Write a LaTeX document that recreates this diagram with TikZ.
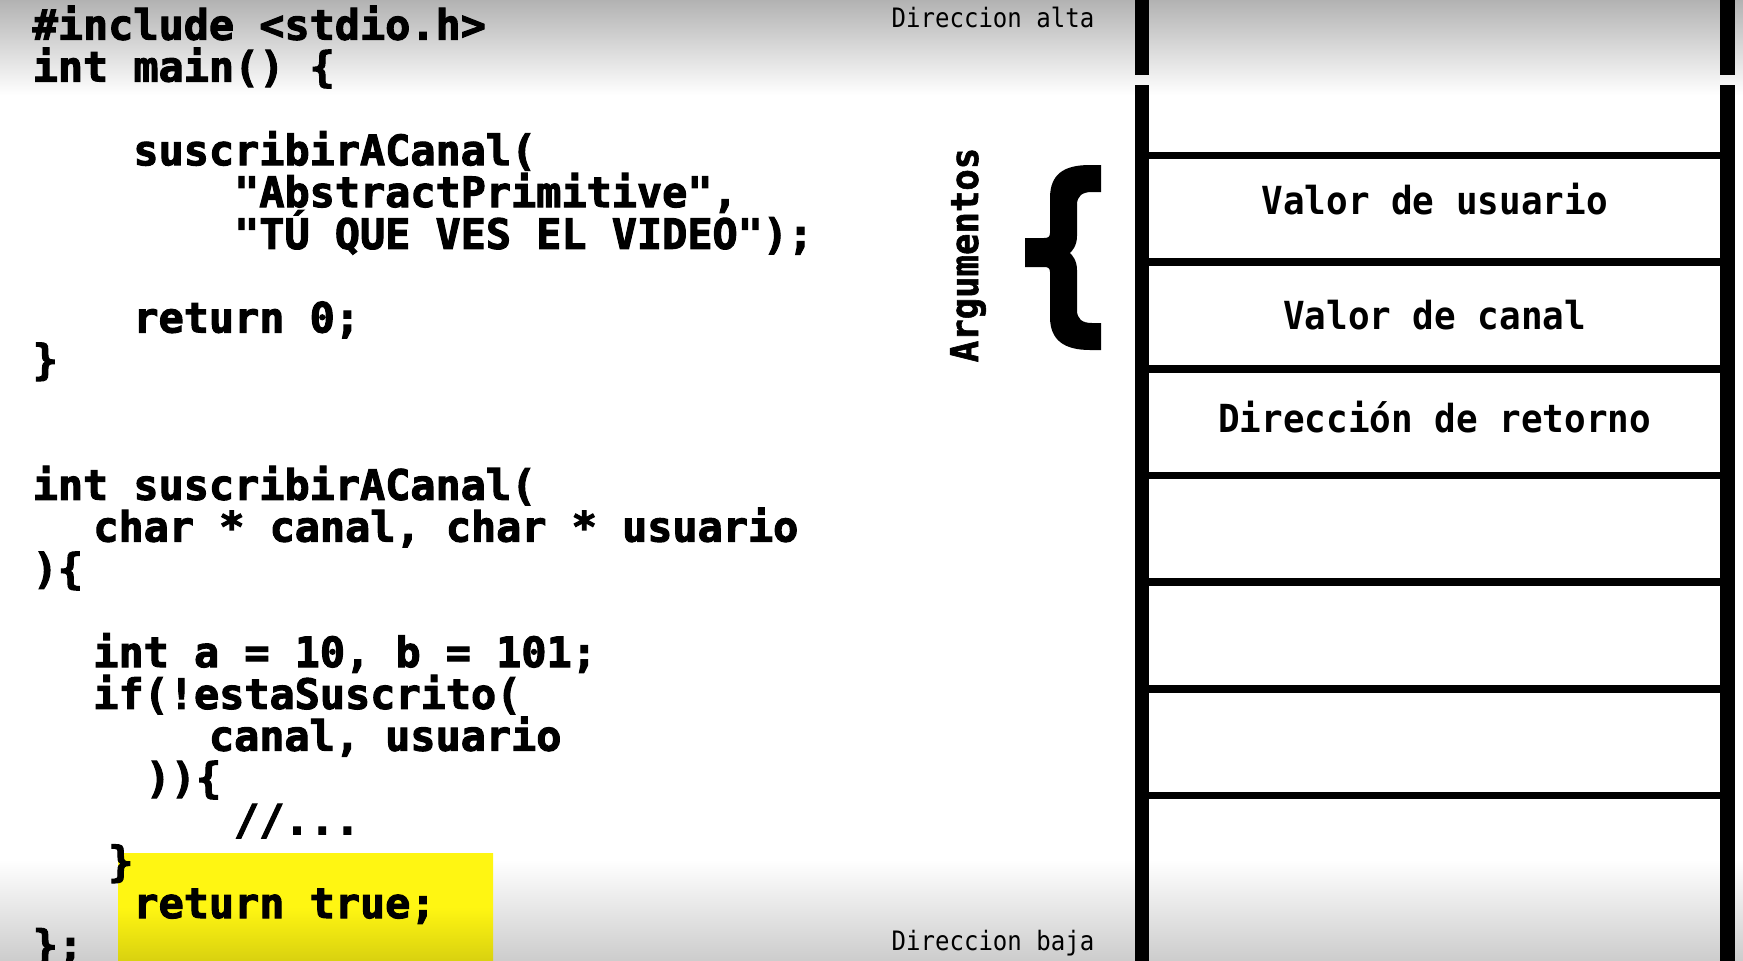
\documentclass[tikz,border=0pt]{standalone}
\usepackage{fontspec}
\usepackage{tikz}
\usetikzlibrary{positioning}
\newfontfamily\codefont{DejaVu Sans Mono Bold}[FakeBold=2.5]
\newfontfamily\cellfont{DejaVu Sans Mono Bold}[FakeStretch=0.93]
\newfontfamily\argfont{DejaVu Sans Mono Bold}[FakeStretch=0.93, FakeBold=1.5]
\newfontfamily\addrfont{DejaVu Sans Mono}[FakeStretch=0.9]
\definecolor{marker}{RGB}{255,246,18}
\setlength{\lineskiplimit}{-100pt}

\begin{document}
\begin{tikzpicture}[
    cell/.style={draw, line width=2.1pt, outer sep=0, inner sep=0, minimum width=5.858cm, minimum height=1.0667cm, font=\cellfont\fontsize{11pt}{13pt}\selectfont},
    rail/.style={line width=4pt},
    addr/.style={anchor=base east, inner sep=0, font=\addrfont\fontsize{7.6pt}{9pt}\selectfont},
    code/.style={anchor=north west, inner sep=0, align=left, font=\codefont\fontsize{11.9pt}{11.9pt}\selectfont}]
    \useasboundingbox (0,0) rectangle (17.43,-9.61);
    \shade[top color=black!30, bottom color=white] (0,0) rectangle (17.43,-0.95);
    \shade[top color=white, bottom color=black!20] (0,-8.6) rectangle (17.43,-9.61);
    \shade[top color=marker, bottom color=marker!85!black, middle color=marker] (1.18,-8.53) rectangle (4.93,-9.61);

    \node [code] (program) at (0.32,-0.05) {%
        \#include <stdio.h>\\
        int main() \{\\
        \\
        ~~~~suscribirACanal(\\
        ~~~~~~~~"AbstractPrimitive",\\
        ~~~~~~~~"TÚ QUE VES EL VIDEO");\\
        \\
        ~~~~return 0;\\
        \}\\
        \\
        \\
        int suscribirACanal(\\
        \hspace*{1.45em}char * canal, char * usuario\\
        )\{\\
        \\
        \hspace*{1.45em}int a = 10, b = 101;\\
        \hspace*{1.45em}if(!estaSuscrito(\\
        ~~~~~~~canal, usuario\\
        \hspace*{2.7em}))\{\\
        ~~~~~~~~//...\\
        ~~~\}\\
        ~~~~return true;\\
        \};};

    \node [cell, text depth=0.2cm] (valor_usuario) at (14.346,-2.088) {Valor de usuario};
    \node [cell, below=0pt of valor_usuario] (valor_canal) {Valor de canal};
    \node [cell, text depth=0.1cm, below=0pt of valor_canal] (dir_retorno) {Dirección de retorno};
    \node [cell, below=0pt of dir_retorno] (libre_1) {};
    \node [cell, below=0pt of libre_1] (libre_2) {};
    \node [cell, below=0pt of libre_2] (libre_3) {};

    \coordinate (rail_left) at (valor_usuario.north west);
    \coordinate (rail_right) at (valor_usuario.north east);
    \draw[rail] (rail_left |- 0,0) -- (rail_left |- 0,-0.75);
    \draw[rail] (rail_left |- 0,-0.85) -- (rail_left |- 0,-9.61);
    \draw[rail] (rail_right |- 0,0) -- (rail_right |- 0,-0.75);
    \draw[rail] (rail_right |- 0,-0.85) -- (rail_right |- 0,-9.61);

    \node [addr] (dir_alta) at (10.95,-0.27) {Direccion alta};
    \node [addr] (dir_baja) at (10.95,-9.50) {Direccion baja};

    \node [rotate=90, font=\argfont\fontsize{10.9pt}{13pt}\selectfont] (argumentos) at (9.68,-2.55) {Argumentos};
    \fill (11.01,-1.65) -- (10.90,-1.65)
        .. controls (10.64,-1.65) and (10.50,-1.74) .. (10.50,-1.98)
        -- (10.50,-2.33) .. controls (10.50,-2.37) and (10.48,-2.38) .. (10.44,-2.38)
        -- (10.25,-2.38) -- (10.25,-2.67) -- (10.44,-2.67)
        .. controls (10.48,-2.67) and (10.50,-2.68) .. (10.50,-2.72)
        -- (10.50,-3.17) .. controls (10.50,-3.40) and (10.64,-3.50) .. (10.90,-3.50)
        -- (11.01,-3.50) -- (11.01,-3.23) -- (10.92,-3.23)
        .. controls (10.82,-3.23) and (10.77,-3.19) .. (10.77,-3.10)
        -- (10.77,-2.70) .. controls (10.77,-2.60) and (10.72,-2.55) .. (10.70,-2.53)
        .. controls (10.72,-2.51) and (10.77,-2.46) .. (10.77,-2.36)
        -- (10.77,-2.05) .. controls (10.77,-1.96) and (10.82,-1.92) .. (10.92,-1.92)
        -- (11.01,-1.92) -- cycle;
\end{tikzpicture}
\end{document}
